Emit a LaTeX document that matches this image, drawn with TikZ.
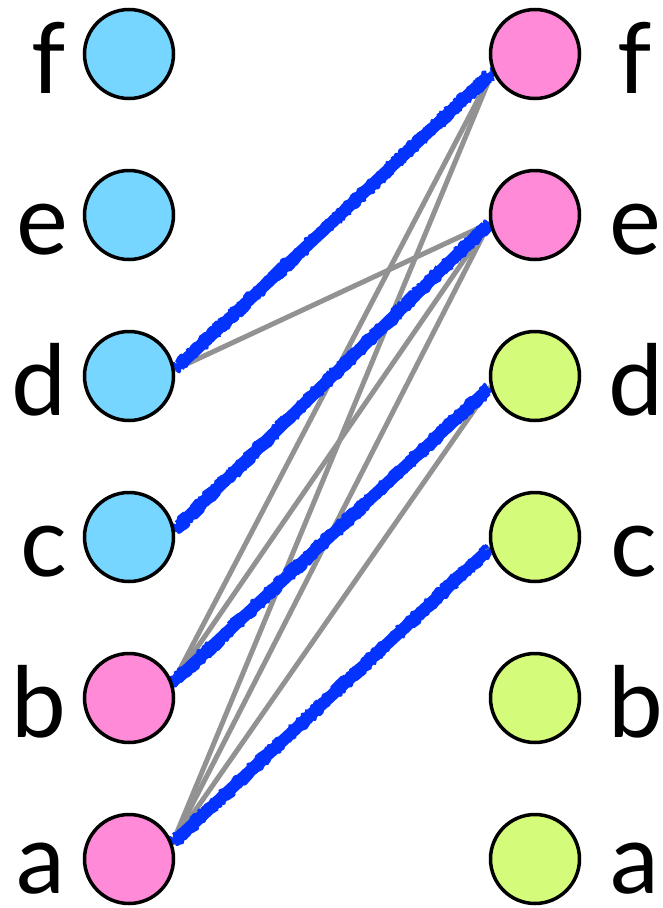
\documentclass[tikz,border=0pt]{standalone}
\usepackage{fontspec}
\setmainfont{Lato}
\usetikzlibrary{decorations.pathmorphing,backgrounds}
\definecolor{skyc}{HTML}{76D6FF}
\definecolor{pinkc}{HTML}{FF8AD8}
\definecolor{limec}{HTML}{D4FB79}
\definecolor{edgegray}{HTML}{929292}
\definecolor{matchblue}{HTML}{0433FF}
\begin{document}
\begin{tikzpicture}[x=1pt,y=-1pt,
  vert/.style={circle,draw=black,line width=3.5pt,minimum size=89pt,inner sep=0pt},
  lab/.style={font=\fontsize{98}{98}\selectfont,inner sep=0pt},
  gedge/.style={draw=edgegray,line width=5pt},
  mcore/.style={draw=matchblue,line width=12pt,shorten <=6pt,shorten >=5pt},
  mrough/.style={draw=matchblue,line width=4pt,line join=round,shorten <=6pt,shorten >=5pt,decorate,decoration={random steps,segment length=2.5pt,amplitude=6pt}}]
\pgfmathsetseed{7}
\useasboundingbox (0,0) rectangle (662,908);
% left vertices
\node[vert,fill=skyc]  (Lf) at (129,54) {};
\node[vert,fill=skyc]  (Le) at (129,215) {};
\node[vert,fill=skyc]  (Ld) at (129,376) {};
\node[vert,fill=skyc]  (Lc) at (129,537) {};
\node[vert,fill=pinkc] (Lb) at (129,698) {};
\node[vert,fill=pinkc] (La) at (129,859) {};
% right vertices
\node[vert,fill=pinkc] (Rf) at (535,54) {};
\node[vert,fill=pinkc] (Re) at (535,215) {};
\node[vert,fill=limec] (Rd) at (535,376) {};
\node[vert,fill=limec] (Rc) at (535,537) {};
\node[vert,fill=limec] (Rb) at (535,698) {};
\node[vert,fill=limec] (Ra) at (535,859) {};
% labels
\node[lab,anchor=base east] (tLf) at (66,93) {f};
\node[lab,anchor=base east] (tLe) at (68,254) {e};
\node[lab,anchor=base east] (tLd) at (67,415) {d};
\node[lab,anchor=base east] (tLc) at (67,576) {c};
\node[lab,anchor=base east] (tLb) at (67,737) {b};
\node[lab,anchor=base east] (tLa) at (65,893) {a};
\node[lab,anchor=base west] (tRf) at (617,93) {f};
\node[lab,anchor=base west] (tRe) at (609,254) {e};
\node[lab,anchor=base west] (tRd) at (608,415) {d};
\node[lab,anchor=base west] (tRc) at (610,576) {c};
\node[lab,anchor=base west] (tRb) at (608,737) {b};
\node[lab,anchor=base west] (tRa) at (610,893) {a};
\begin{scope}[on background layer]
% all edges in gray
\foreach \s/\t in {Ld.8/Rf.203, Ld.8/Re.190, Lc.9/Re.190, Lb.19/Rf.203, Lb.19/Re.190, Lb.19/Rd.194, La.20/Rf.203, La.20/Re.190, La.20/Rd.194, La.20/Rc.194}
  \draw[gedge] (\s) -- (\t);
% matching edges
\foreach \s/\t in {Ld.8/Rf.203, Lc.9/Re.190, Lb.19/Rd.194, La.20/Rc.194}{
  \draw[mcore] (\s) -- (\t);
  \draw[mrough] (\s) -- (\t);
  \draw[mrough] (\t) -- (\s);
  \draw[mrough] (\s) -- (\t);
  \draw[mrough] (\t) -- (\s);
}
\end{scope}
\end{tikzpicture}
\end{document}
